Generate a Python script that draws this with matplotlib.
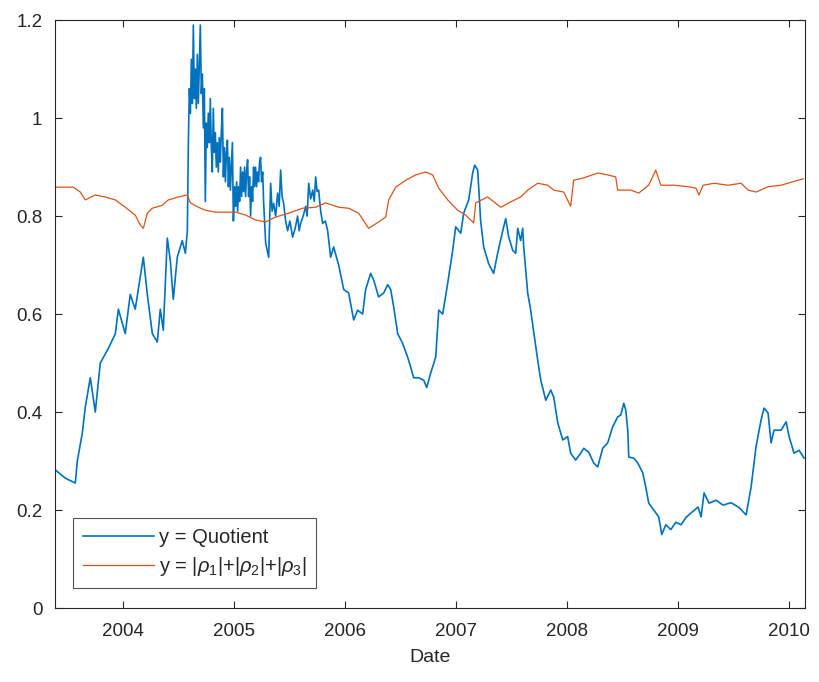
import numpy as np
import pandas as pd
import matplotlib
matplotlib.use('Agg')
import matplotlib.pyplot as plt
import matplotlib.dates as mdates
from matplotlib.ticker import FuncFormatter

# Quotient (decimal year, value)
q_years = [2003.386, 2003.477, 2003.567, 2003.585, 2003.630, 2003.657, 2003.702, 2003.747,
           2003.792, 2003.865, 2003.928, 2003.955, 2004.018, 2004.063, 2004.108, 2004.181,
           2004.217, 2004.262, 2004.307, 2004.334, 2004.361, 2004.397, 2004.424, 2004.451,
           2004.487, 2004.532, 2004.560, 2004.578,
           # dense, noisy part after the 2004 jump
           2004.587, 2004.596, 2004.605, 2004.614, 2004.623, 2004.632, 2004.641, 2004.650,
           2004.659, 2004.668, 2004.677, 2004.686, 2004.695, 2004.704, 2004.713, 2004.722,
           2004.731, 2004.740, 2004.749, 2004.758, 2004.767, 2004.776, 2004.785, 2004.794,
           2004.803, 2004.812, 2004.821, 2004.830, 2004.839, 2004.848, 2004.857, 2004.866,
           2004.875, 2004.884, 2004.894, 2004.903, 2004.912, 2004.921, 2004.930, 2004.939,
           2004.948, 2004.957, 2004.966, 2004.975, 2004.984, 2004.993, 2005.002, 2005.011,
           2005.020, 2005.029, 2005.038, 2005.047, 2005.056, 2005.065, 2005.074, 2005.083,
           2005.092, 2005.101, 2005.110, 2005.119, 2005.128, 2005.137, 2005.146, 2005.155,
           2005.164, 2005.173, 2005.182, 2005.191, 2005.200, 2005.209, 2005.218, 2005.227,
           2005.236, 2005.245, 2005.255, 2005.264,
           2005.282, 2005.309, 2005.327, 2005.340, 2005.354, 2005.372, 2005.390, 2005.404,
           2005.417, 2005.430, 2005.444, 2005.462, 2005.480, 2005.500, 2005.525, 2005.548,
           2005.570, 2005.584, 2005.597, 2005.620, 2005.643, 2005.656, 2005.670, 2005.688,
           2005.706, 2005.720, 2005.733, 2005.746, 2005.760, 2005.778, 2005.796, 2005.820,
           2005.841, 2005.868, 2005.895, 2005.940,
           2005.986, 2006.031, 2006.076, 2006.112, 2006.157, 2006.184, 2006.229, 2006.256,
           2006.301, 2006.347, 2006.383, 2006.410, 2006.437, 2006.473, 2006.518, 2006.563,
           2006.590, 2006.617, 2006.662, 2006.708, 2006.735, 2006.771, 2006.816, 2006.843,
           2006.879, 2006.924, 2006.969, 2006.996, 2007.042, 2007.069, 2007.114, 2007.150,
           2007.168, 2007.195, 2007.204, 2007.222, 2007.249, 2007.294, 2007.339, 2007.375,
           2007.421, 2007.448, 2007.475, 2007.511, 2007.538, 2007.556, 2007.583, 2007.601,
           2007.610, 2007.646, 2007.673, 2007.736, 2007.764, 2007.809, 2007.854, 2007.881,
           2007.917, 2007.962, 2008.007, 2008.034, 2008.079, 2008.125, 2008.152, 2008.197,
           2008.242, 2008.278, 2008.323, 2008.368, 2008.413, 2008.458, 2008.486, 2008.513,
           2008.531, 2008.549, 2008.558, 2008.603, 2008.639, 2008.684, 2008.711, 2008.738,
           2008.783, 2008.828, 2008.856, 2008.892, 2008.937, 2008.982, 2009.027, 2009.073,
           2009.117, 2009.181, 2009.208, 2009.235, 2009.280, 2009.343, 2009.406, 2009.478,
           2009.551, 2009.614, 2009.659, 2009.704, 2009.749, 2009.776, 2009.812, 2009.839,
           2009.866, 2009.930, 2009.975, 2010.002, 2010.047, 2010.092, 2010.137]
q_vals = [0.282, 0.265, 0.255, 0.300, 0.357, 0.410, 0.470, 0.400,
          0.500, 0.530, 0.560, 0.610, 0.560, 0.640, 0.610, 0.716,
          0.640, 0.560, 0.543, 0.610, 0.567, 0.755, 0.710, 0.630,
          0.716, 0.750, 0.724, 0.770,
          0.950, 1.060, 1.010, 1.120, 1.030, 1.190, 1.040, 1.100,
          1.020, 1.130, 1.030, 1.110, 1.190, 1.050, 1.090, 0.980,
          1.060, 0.830, 0.990, 0.940, 1.010, 0.950, 1.040, 0.940,
          0.890, 1.020, 0.930, 0.970, 0.900, 0.950, 0.890, 0.960,
          0.910, 0.970, 1.020, 0.880, 0.940, 0.870, 0.930, 0.955,
          0.860, 0.920, 0.853, 0.900, 0.950, 0.790, 0.860, 0.820,
          0.870, 0.810, 0.860, 0.830, 0.900, 0.840, 0.890, 0.850,
          0.900, 0.840, 0.890, 0.915, 0.840, 0.880, 0.800, 0.860,
          0.830, 0.900, 0.860, 0.900, 0.860, 0.890, 0.870, 0.910,
          0.920, 0.870, 0.890, 0.826,
          0.745, 0.716, 0.867, 0.810, 0.826, 0.800, 0.847, 0.820,
          0.894, 0.840, 0.826, 0.790, 0.770, 0.790, 0.757, 0.775,
          0.800, 0.770, 0.785, 0.800, 0.820, 0.800, 0.867, 0.835,
          0.853, 0.830, 0.880, 0.850, 0.853, 0.810, 0.785, 0.790,
          0.770, 0.716, 0.737, 0.700,
          0.650, 0.643, 0.588, 0.608, 0.600, 0.650, 0.683, 0.670,
          0.635, 0.643, 0.660, 0.650, 0.615, 0.560, 0.540, 0.512,
          0.492, 0.470, 0.470, 0.465, 0.450, 0.480, 0.512, 0.608,
          0.600, 0.663, 0.730, 0.778, 0.765, 0.806, 0.833, 0.888,
          0.904, 0.894, 0.860, 0.790, 0.737, 0.703, 0.683, 0.724,
          0.770, 0.795, 0.757, 0.730, 0.724, 0.775, 0.750, 0.775,
          0.737, 0.643, 0.608, 0.506, 0.465, 0.424, 0.445, 0.430,
          0.378, 0.343, 0.350, 0.316, 0.302, 0.316, 0.326, 0.318,
          0.296, 0.288, 0.326, 0.337, 0.370, 0.390, 0.394, 0.418,
          0.404, 0.363, 0.308, 0.306, 0.296, 0.276, 0.247, 0.214,
          0.200, 0.186, 0.150, 0.170, 0.160, 0.175, 0.170, 0.185,
          0.194, 0.206, 0.186, 0.235, 0.214, 0.220, 0.210, 0.215,
          0.205, 0.190, 0.247, 0.330, 0.384, 0.408, 0.398, 0.337,
          0.363, 0.363, 0.380, 0.350, 0.316, 0.322, 0.306]

# |rho1|+|rho2|+|rho3|
r_years = [2003.386, 2003.549, 2003.612, 2003.657, 2003.747, 2003.838, 2003.928, 2004.018,
           2004.108, 2004.153, 2004.181, 2004.217, 2004.262, 2004.352, 2004.406, 2004.496,
           2004.578, 2004.605, 2004.677, 2004.740, 2004.830, 2004.921, 2005.011, 2005.101,
           2005.191, 2005.282, 2005.372, 2005.489, 2005.615, 2005.733, 2005.823, 2005.940,
           2006.031, 2006.121, 2006.211, 2006.301, 2006.365, 2006.392, 2006.455, 2006.545,
           2006.635, 2006.726, 2006.789, 2006.843, 2006.924, 2007.014, 2007.087, 2007.159,
           2007.177, 2007.285, 2007.403, 2007.493, 2007.583, 2007.646, 2007.736, 2007.827,
           2007.881, 2007.971, 2008.034, 2008.061, 2008.152, 2008.278, 2008.368, 2008.440,
           2008.458, 2008.576, 2008.648, 2008.738, 2008.801, 2008.847, 2008.964, 2009.090,
           2009.162, 2009.189, 2009.226, 2009.325, 2009.451, 2009.569, 2009.632, 2009.704,
           2009.812, 2009.930, 2010.020, 2010.128]
r_vals = [0.859, 0.859, 0.849, 0.833, 0.843, 0.839, 0.833, 0.818,
          0.802, 0.782, 0.775, 0.806, 0.816, 0.822, 0.833, 0.839,
          0.843, 0.827, 0.818, 0.812, 0.808, 0.808, 0.808, 0.802,
          0.792, 0.788, 0.798, 0.806, 0.816, 0.818, 0.827, 0.818,
          0.816, 0.806, 0.775, 0.788, 0.798, 0.833, 0.859, 0.873,
          0.884, 0.890, 0.884, 0.857, 0.833, 0.812, 0.802, 0.786,
          0.827, 0.839, 0.818, 0.829, 0.839, 0.853, 0.867, 0.863,
          0.853, 0.849, 0.820, 0.873, 0.878, 0.888, 0.884, 0.880,
          0.853, 0.853, 0.847, 0.863, 0.894, 0.863, 0.863, 0.860,
          0.857, 0.843, 0.863, 0.867, 0.863, 0.867, 0.853, 0.849,
          0.860, 0.863, 0.869, 0.876]


def to_dates(years):
    years = np.asarray(years)
    base = pd.to_datetime(np.floor(years).astype(int).astype(str), format='%Y')
    return base + pd.to_timedelta((years - np.floor(years)) * 365.25, unit='D')


plt.rcParams['font.family'] = ['Liberation Sans', 'DejaVu Sans']
plt.rcParams['mathtext.fontset'] = 'custom'
plt.rcParams['mathtext.it'] = 'Liberation Sans:italic'
plt.rcParams['mathtext.rm'] = 'Liberation Sans'
txt = '#262626'

fig = plt.figure(figsize=(8.2, 6.82), dpi=100)
ax = fig.add_axes([0.067, 0.1085, 0.915, 0.862])

ax.plot(to_dates(q_years), q_vals, color='#0072BD', lw=1.2, label='y = Quotient')
ax.plot(to_dates(r_years), r_vals, color='#D95319', lw=0.9,
        label=r'y = |$\rho_1$|+|$\rho_2$|+|$\rho_3$|')

ax.set_xlim(pd.Timestamp('2003-05-21'), pd.Timestamp('2010-02-24'))
ax.set_ylim(0, 1.2)
ax.set_yticks(np.arange(0, 1.21, 0.2))
ax.yaxis.set_major_formatter(FuncFormatter(lambda v, p: f'{v:g}'))
ax.xaxis.set_major_locator(mdates.YearLocator())
ax.xaxis.set_major_formatter(mdates.DateFormatter('%Y'))

ax.tick_params(direction='in', length=5, width=0.8, top=True, right=True,
               labelsize=13.5, colors=txt)
ax.tick_params(axis='x', pad=11)
ax.tick_params(axis='y', pad=9)
for s in ax.spines.values():
    s.set_color(txt)
    s.set_linewidth(0.8)
ax.set_xlabel('Date', fontsize=14, color=txt, labelpad=6)

leg = ax.legend(loc='lower left', bbox_to_anchor=(0.024, 0.034), fontsize=14.5,
                handlelength=3.5, frameon=True, fancybox=False, borderpad=0.5,
                labelspacing=0.4, handletextpad=0.25, borderaxespad=0)
leg.get_frame().set_edgecolor(txt)
leg.get_frame().set_linewidth(0.8)
for t in leg.get_texts():
    t.set_color(txt)

fig.savefig('out.png', dpi=100)
